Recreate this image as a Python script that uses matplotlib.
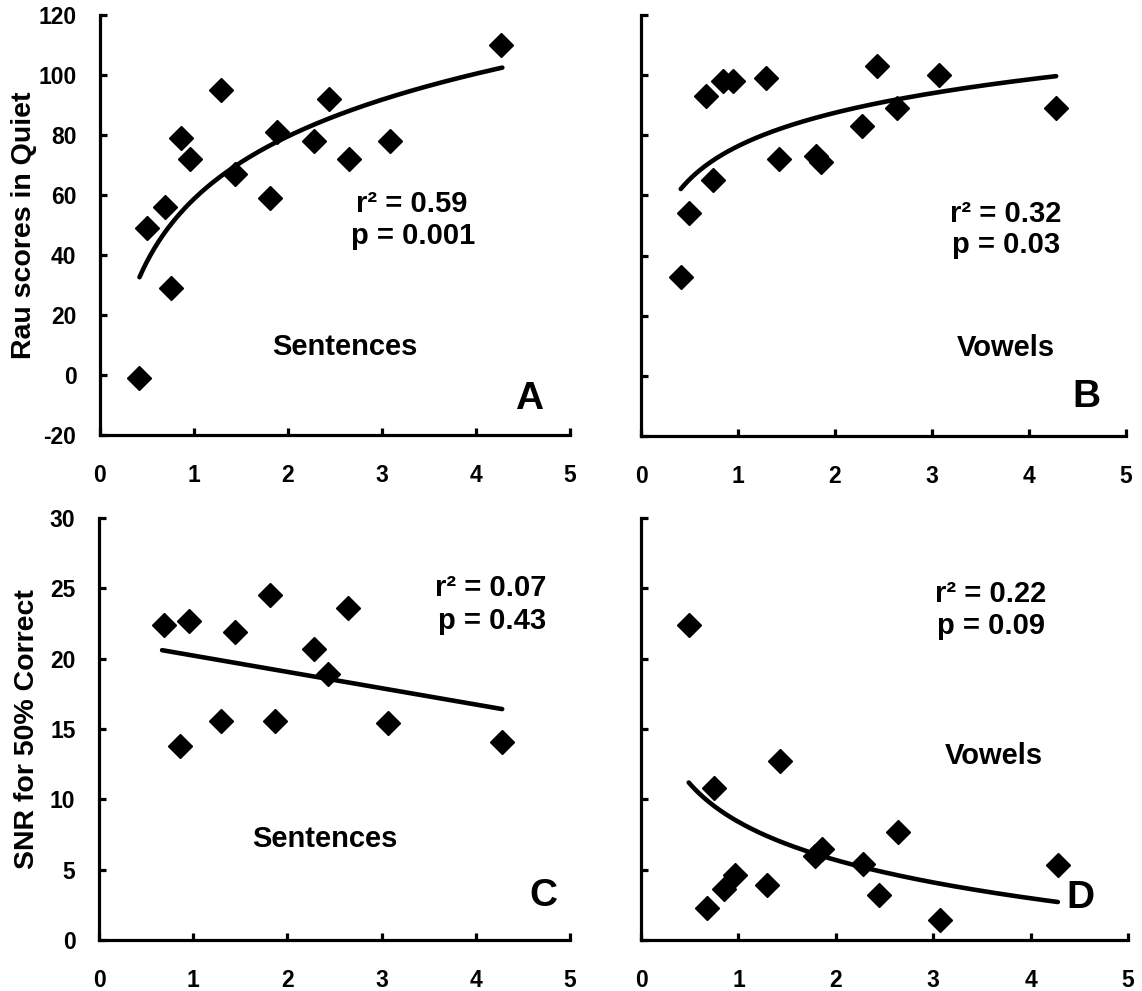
import numpy as np
import matplotlib
matplotlib.use("Agg")
import matplotlib.pyplot as plt

plt.rcParams['font.family'] = ['Liberation Sans', 'DejaVu Sans']
plt.rcParams['font.weight'] = 'bold'

# ---- data ----
xA = [0.42, 0.50, 0.69, 0.75, 0.86, 0.96, 1.29, 1.44, 1.81, 1.88, 2.28, 2.44, 2.65, 3.08, 4.27]
yA = [-1, 49, 56, 29, 79, 72, 95, 67, 59, 81, 78, 92, 72, 78, 110]

xB = [0.41, 0.49, 0.67, 0.74, 0.85, 0.95, 1.29, 1.42, 1.80, 1.86, 2.28, 2.43, 2.64, 3.07, 4.28]
yB = [33, 54, 93, 65, 98, 98, 99, 72, 73, 71, 83, 103, 89, 100, 89]

xC = [0.69, 0.86, 0.96, 1.30, 1.44, 1.81, 1.87, 2.28, 2.43, 2.64, 3.07, 4.28]
yC = [22.4, 13.8, 22.7, 15.6, 21.9, 24.5, 15.6, 20.7, 18.9, 23.6, 15.4, 14.1]

xD = [0.49, 0.68, 0.75, 0.85, 0.96, 1.29, 1.43, 1.79, 1.86, 2.28, 2.44, 2.64, 3.07, 4.28]
yD = [22.4, 2.3, 10.8, 3.6, 4.6, 3.9, 12.7, 6.0, 6.5, 5.4, 3.2, 7.7, 1.4, 5.3]

# trendlines (coefficients)
fitA = dict(kind='log', a=58.7, b=30.1, x0=0.42, x1=4.28)
fitB = dict(kind='log', a=76.4, b=16.0, x0=0.41, x1=4.28)
fitC = dict(kind='lin', a=21.38, b=-1.16, x0=0.67, x1=4.28)
fitD = dict(kind='log', a=8.40, b=-3.92, x0=0.49, x1=4.28)

statsA = ["r\u00b2 = 0.59", "p = 0.001"]
statsB = ["r\u00b2 = 0.32", "p = 0.03"]
statsC = ["r\u00b2 = 0.07", "p = 0.43"]
statsD = ["r\u00b2 = 0.22", "p = 0.09"]

xticks = [0, 1, 2, 3, 4, 5]
yticks_top = [-20, 0, 20, 40, 60, 80, 100, 120]
yticks_bot = [0, 5, 10, 15, 20, 25, 30]

W, H = 1142, 991
fig = plt.figure(figsize=(W / 100, H / 100), dpi=100)

def add_ax(l, r, t, b):
    return fig.add_axes([l / W, 1 - b / H, (r - l) / W, (b - t) / H])

axA = add_ax(100, 570, 15, 435)
axB = add_ax(641, 1126, 15, 436)
axC = add_ax(99, 570, 518, 940)
axD = add_ax(641, 1128, 518, 940)

def style(ax, yticks, ylim, ylabels):
    ax.set_xlim(0, 5)
    ax.set_ylim(*ylim)
    ax.set_xticks(xticks)
    ax.set_yticks(yticks)
    ax.set_xticklabels([str(v) for v in xticks])
    if ylabels:
        ax.set_yticklabels([str(v) for v in yticks])
    else:
        ax.set_yticklabels([])
    for s in ['top', 'right']:
        ax.spines[s].set_visible(False)
    for s in ['left', 'bottom']:
        ax.spines[s].set_linewidth(2.3)
    ax.tick_params(direction='in', length=5, width=2.3, labelsize=16.5)
    ax.tick_params(axis='x', pad=21)
    ax.tick_params(axis='y', pad=17)
    for lab in ax.get_xticklabels() + ax.get_yticklabels():
        lab.set_fontweight('bold')
    ax.patch.set_alpha(0)

def draw(ax, x, y, fit):
    ax.plot(x, y, linestyle='none', marker='D', markersize=12, color='black', clip_on=False, zorder=3)
    xs = np.linspace(fit['x0'], fit['x1'], 200)
    if fit['kind'] == 'log':
        ys = fit['a'] + fit['b'] * np.log(xs)
    else:
        ys = fit['a'] + fit['b'] * xs
    ax.plot(xs, ys, color='black', linewidth=3.3, solid_capstyle='round', zorder=2)

def txt(ax, x, y, s, size=21):
    ax.text(x, y, s, ha='center', va='center', fontsize=size, fontweight='bold')

style(axA, yticks_top, (-20, 120), True)
draw(axA, xA, yA, fitA)
txt(axA, 3.32, 57.1, statsA[0]); txt(axA, 3.33, 46.3, statsA[1])
txt(axA, 2.61, 9.2, "Sentences")
txt(axA, 4.56, -8.0, "A", 28)
axA.set_ylabel("Rau scores in Quiet", fontsize=20.5, fontweight='bold')
axA.yaxis.set_label_coords(-0.135, 0.5)

style(axB, yticks_top, (-20, 120), False)
draw(axB, xB, yB, fitB)
txt(axB, 3.76, 53.9, statsB[0]); txt(axB, 3.76, 43.6, statsB[1])
txt(axB, 3.76, 9.3, "Vowels")
txt(axB, 4.59, -7.1, "B", 28)

style(axC, yticks_bot, (0, 30), True)
draw(axC, xC, yC, fitC)
txt(axC, 4.16, 25.0, statsC[0]); txt(axC, 4.17, 22.7, statsC[1])
txt(axC, 2.40, 7.2, "Sentences")
txt(axC, 4.72, 3.1, "C", 28)
axC.set_ylabel("SNR for 50% Correct", fontsize=20.5, fontweight='bold')
axC.yaxis.set_label_coords(-0.125, 0.5)

style(axD, yticks_bot, (0, 30), False)
draw(axD, xD, yD, fitD)
txt(axD, 3.59, 24.6, statsD[0]); txt(axD, 3.59, 22.3, statsD[1])
txt(axD, 3.62, 13.1, "Vowels")
txt(axD, 4.51, 3.0, "D", 28)

fig.savefig("out.png", dpi=100)
